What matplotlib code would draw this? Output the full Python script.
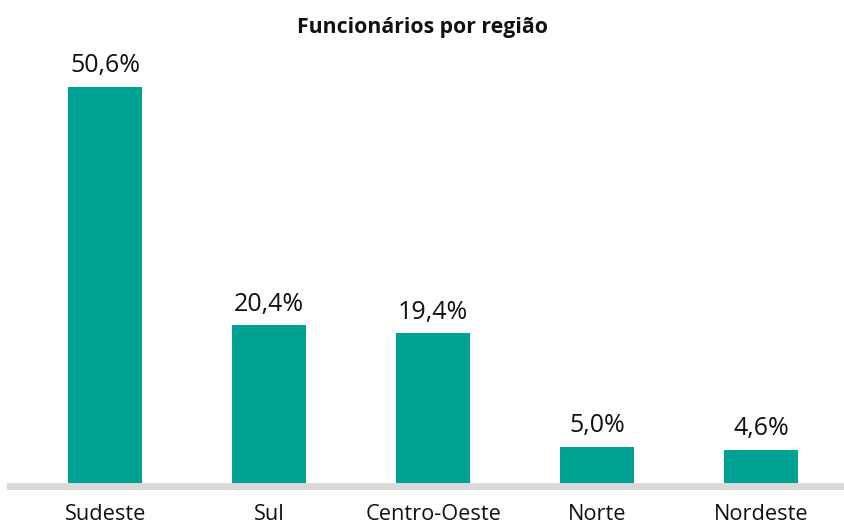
import matplotlib
matplotlib.use("Agg")
import matplotlib.pyplot as plt

regioes = ["Sudeste", "Sul", "Centro-Oeste", "Norte", "Nordeste"]
percentuais = [50.6, 20.4, 19.4, 5.0, 4.6]
rotulos = ["50,6%", "20,4%", "19,4%", "5,0%", "4,6%"]

plt.rcParams['font.family'] = ['Open Sans', 'DejaVu Sans']

fig = plt.figure(figsize=(8.45, 5.24), dpi=100)
ax = fig.add_axes([10 / 845, 38 / 524, 835 / 845, 434 / 524])

x = range(len(regioes))
ax.bar(x, percentuais, width=0.45, color="#00A294")
ax.set_xlim(-0.58, 4.51)
ax.set_ylim(0, 55)

for xi, v, r in zip(x, percentuais, rotulos):
    ax.annotate(r, (xi, v), xytext=(0, 6), textcoords="offset points",
                ha="center", va="bottom", fontsize=18, color="#111111")

ax.set_xticks(list(x))
ax.set_xticklabels(regioes, fontsize=15.7, color="#111111")
ax.tick_params(axis="x", length=0, pad=13)
ax.set_yticks([])
for s in ["top", "right", "left"]:
    ax.spines[s].set_visible(False)
ax.spines["bottom"].set_color("#D9D9D9")
ax.spines["bottom"].set_linewidth(5)

fig.text(0.5, 1 - 27 / 524, "Funcionários por região", ha="center", va="center",
         fontsize=15.3, fontweight="bold", color="#111111")

fig.savefig("out.png", dpi=100)
